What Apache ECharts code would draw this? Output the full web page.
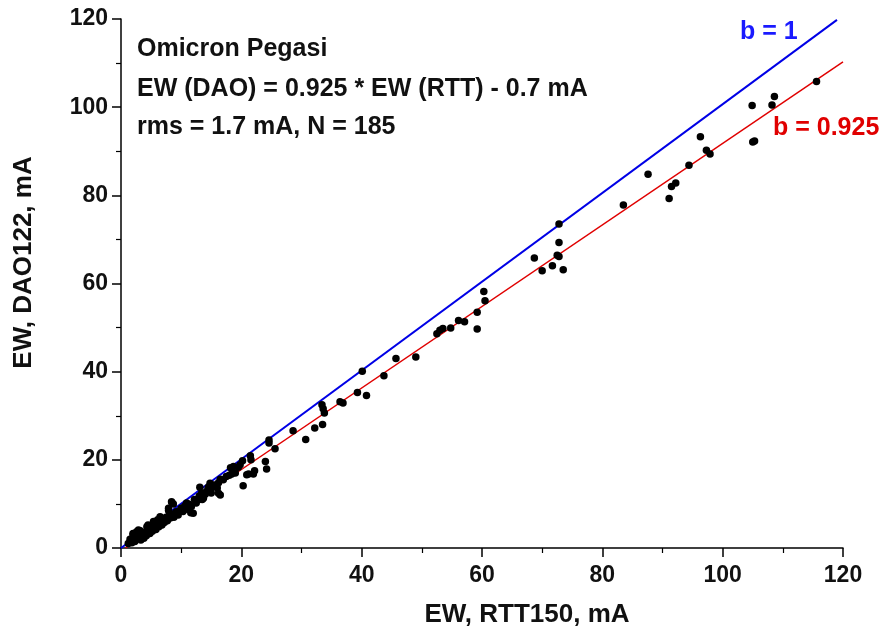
<!DOCTYPE html>
<html><head><meta charset="utf-8">
<script src="https://cdn.jsdelivr.net/npm/echarts@6/dist/echarts.min.js"></script>
<style>html,body{margin:0;padding:0;background:#fff}#c{width:885px;height:633px}</style>
</head><body><div id="c"></div>
<script>
const xTicks = [0, 20, 40, 60, 80, 100, 120];
const yTicks = [0, 20, 40, 60, 80, 100, 120];
const points = [
[115.6,105.8],[108.6,102.4],[108.2,100.5],[104.9,100.4],[105.3,92.3],[105.0,92.1],
[96.3,93.3],[97.3,90.2],[97.9,89.4],[94.4,86.8],[87.6,84.8],[92.2,82.8],[91.5,82.0],[91.1,79.3],
[83.5,77.8],[72.8,73.5],[72.8,69.3],[68.7,65.8],[72.5,66.4],[72.8,66.1],[71.7,64.0],[70.0,62.9],[73.5,63.1],
[60.3,58.2],[60.5,56.1],[59.2,53.5],[59.2,49.7],[57.1,51.3],[56.1,51.6],[54.8,49.9],[53.5,49.8],[53.0,49.4],[52.5,48.6],
[49.0,43.3],[45.7,43.0],[43.7,39.1],[40.1,40.1],[40.8,34.6],[39.3,35.3],[36.9,32.9],[36.4,33.2],
[33.4,32.5],[33.6,31.6],[33.8,30.6],[33.5,28.0],[32.2,27.2],[30.7,24.6],[28.6,26.6],[25.6,22.5],
[24.6,24.5],[24.6,23.8],[24.0,19.6],[24.2,17.9],[21.5,20.9],[21.6,20.0],[20.2,19.8],[20.3,14.1],
[22.0,16.8],[21.2,16.8],[20.9,16.6],[19.5,18.3],[18.7,18.5],[18.4,16.8],[19.0,17.0],[19.8,18.9],
[16.5,12.0],[16.0,13.6],[15.3,13.9],[14.8,13.2],[14.2,12.8],[13.1,13.8],[13.4,12.4],[13.7,11.3],
[12.8,10.9],[11.7,9.4],[12.0,7.9],[10.9,10.2],[9.8,8.5],[9.0,7.9],[8.4,10.5],[7.9,8.5],[6.5,7.1],
[5.4,6.0],[4.3,4.8],[3.2,3.9],[2.6,3.7],[2.0,3.0],[8.7,10.0],[7.9,9.0],[6.1,6.4],[4.5,5.2],[2.9,4.1],[2.0,3.3],
[1.2,1.0],[1.5,2.0],[1.8,1.2],[2.3,1.5],[2.5,2.2],[3.0,2.5],[3.3,1.8],[3.5,3.0],[3.8,2.2],[4.0,3.5],
[4.2,2.8],[4.6,4.0],[4.8,3.3],[5.0,4.5],[5.2,3.8],[5.5,5.0],[5.8,4.2],[6.0,5.5],[6.3,4.8],[6.6,6.0],
[6.8,5.2],[7.0,6.5],[7.2,5.8],[7.5,7.0],[7.7,6.2],[8.0,7.3],[8.2,6.8],[8.5,7.6],[8.8,7.0],[9.2,8.2],
[9.5,7.5],[10.0,9.0],[10.3,8.3],[10.6,9.5],[11.0,8.8],[11.3,9.9],[11.6,8.0],[12.2,11.0],[12.5,10.2],
[13.0,11.8],[13.5,11.0],[14.0,12.2],[14.5,13.8],[15.0,12.5],[15.5,14.3],[16.2,14.8],[17.0,15.5],
[17.5,16.2],[18.0,16.5],[18.2,18.2],[22.2,17.5],[16.2,12.4],[14.8,14.7],[16.5,15.6],[8.5,10.2]
];
const lineB1 = [[0, 0], [119, 119.8]];
const lineFit = [[0.76, 0], [120, 110.3]];
const annotations = ['Omicron Pegasi', 'EW (DAO) = 0.925 * EW (RTT) - 0.7 mA', 'rms = 1.7 mA, N = 185'];
const lineLabels = ['b = 1', 'b = 0.925'];

const FONT = '"Liberation Sans", Arial, sans-serif';
const chart = echarts.init(document.getElementById('c'));
const axisCommon = {
  type: 'value', min: 0, max: 120, interval: 20,
  axisLine: { show: true, onZero: false, lineStyle: { color: '#000', width: 1.5 } },
  axisTick: { show: true, inside: false, length: 9, lineStyle: { color: '#000', width: 1.5 } },
  minorTick: { show: true, splitNumber: 2, length: 5, lineStyle: { color: '#000', width: 1.2 } },
  splitLine: { show: false },
  axisLabel: { color: '#111', fontFamily: FONT, fontWeight: 'bold', fontSize: 23 },
  nameLocation: 'middle',
  nameTextStyle: { color: '#111', fontFamily: FONT, fontWeight: 'bold', fontSize: 26 }
};
chart.setOption({
  animation: false,
  grid: { left: 121, right: 42, top: 19, bottom: 85 },
  xAxis: Object.assign({}, axisCommon, { name: 'EW, RTT150, mA', nameGap: 54,
    nameTextStyle: Object.assign({}, axisCommon.nameTextStyle, { padding: [0, 0, 0, 90] }),
    axisLabel: Object.assign({}, axisCommon.axisLabel, { margin: 16 }) }),
  yAxis: Object.assign({}, axisCommon, { name: 'EW, DAO122, mA', nameGap: 84,
    nameTextStyle: Object.assign({}, axisCommon.nameTextStyle, { padding: [0, 0, 0, 42] }),
    axisLabel: Object.assign({}, axisCommon.axisLabel, { margin: 13 }) }),
  series: [
    { type: 'line', data: lineB1, symbol: 'none', lineStyle: { color: '#0000e6', width: 2 }, z: 2 },
    { type: 'line', data: lineFit, symbol: 'none', lineStyle: { color: '#e00000', width: 1.5 }, z: 2 },
    { type: 'scatter', data: points, symbol: 'circle', symbolSize: 7.5, itemStyle: { color: '#000', opacity: 1 }, z: 3 }
  ],
  graphic: [
    { type: 'text', x: 137, y: 49, style: { text: annotations[0], fill: '#111', font: 'bold 25px ' + FONT, verticalAlign: 'middle' } },
    { type: 'text', x: 137, y: 89, style: { text: annotations[1], fill: '#111', font: 'bold 25px ' + FONT, verticalAlign: 'middle' } },
    { type: 'text', x: 137, y: 127, style: { text: annotations[2], fill: '#111', font: 'bold 25px ' + FONT, verticalAlign: 'middle' } },
    { type: 'text', x: 740, y: 32, style: { text: lineLabels[0], fill: '#1a1aff', font: 'bold 25px ' + FONT, verticalAlign: 'middle' } },
    { type: 'text', x: 773, y: 128, style: { text: lineLabels[1], fill: '#e00000', font: 'bold 25px ' + FONT, verticalAlign: 'middle' } }
  ]
});
</script></body></html>
